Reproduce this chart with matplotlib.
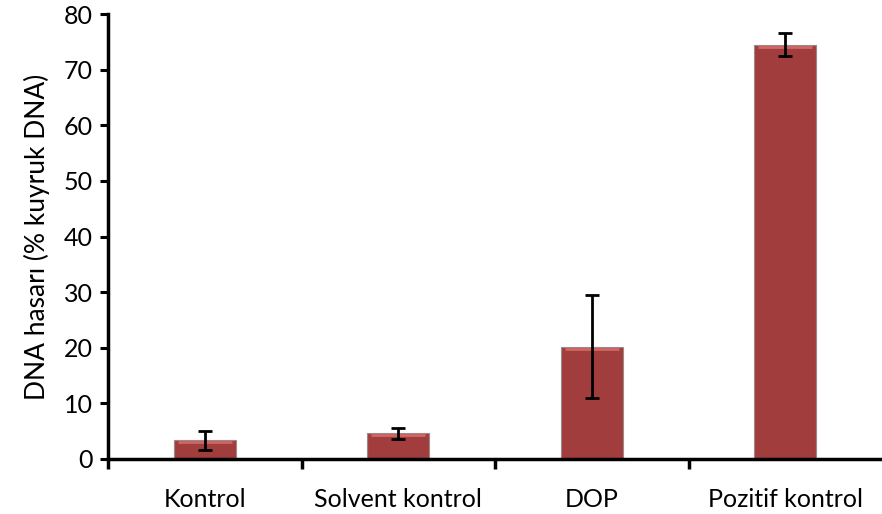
import numpy as np
import matplotlib.pyplot as plt

# values
categories = ["Kontrol", "Solvent kontrol", "DOP", "Pozitif kontrol"]
damage = [3.4, 4.6, 20.2, 74.5]
damage_err = [1.7, 1.0, 9.3, 2.1]
y_ticks = [0, 10, 20, 30, 40, 50, 60, 70, 80]

plt.rcParams['font.family'] = ['Lato', 'DejaVu Sans']

fig = plt.figure(figsize=(8.82, 5.14), dpi=100)
ax = fig.add_axes([108 / 882, 55 / 514, 774 / 882, 445 / 514])

x = np.arange(len(categories))
bars = ax.bar(x, damage, width=0.32, color="#A23D3D", edgecolor="#9a8a8a",
              linewidth=0.8, zorder=2)
# light bevel along the top edge of each bar
for rect in bars:
    ax.plot([rect.get_x() + 0.02, rect.get_x() + rect.get_width() - 0.02],
            [rect.get_height() - 0.35] * 2, color="#CF6766", lw=2.0,
            solid_capstyle="butt", zorder=3)
ax.errorbar(x, damage, yerr=damage_err, fmt="none", ecolor="black",
            elinewidth=2, capsize=5, capthick=2, zorder=4)

ax.set_xlim(-0.5, len(categories) - 0.5)
ax.set_ylim(0, 80)
ax.set_yticks(y_ticks)
ax.tick_params(axis="y", direction="out", length=6, width=2.2, labelsize=18, pad=5)

# category labels centred, tick marks on the boundaries (Excel style)
ax.set_xticks(x)
ax.set_xticklabels(categories, fontsize=18)
ax.tick_params(axis="x", length=0, pad=21)
ax.set_xticks(np.arange(len(categories)) - 0.5, minor=True)
ax.tick_params(axis="x", which="minor", direction="out", length=7, width=2.5)

ax.set_ylabel("DNA hasarı (% kuyruk DNA)", fontsize=19, labelpad=10)

for side in ["top", "right"]:
    ax.spines[side].set_visible(False)
for side in ["left", "bottom"]:
    ax.spines[side].set_linewidth(2.5)

fig.savefig("out.png", dpi=100)
